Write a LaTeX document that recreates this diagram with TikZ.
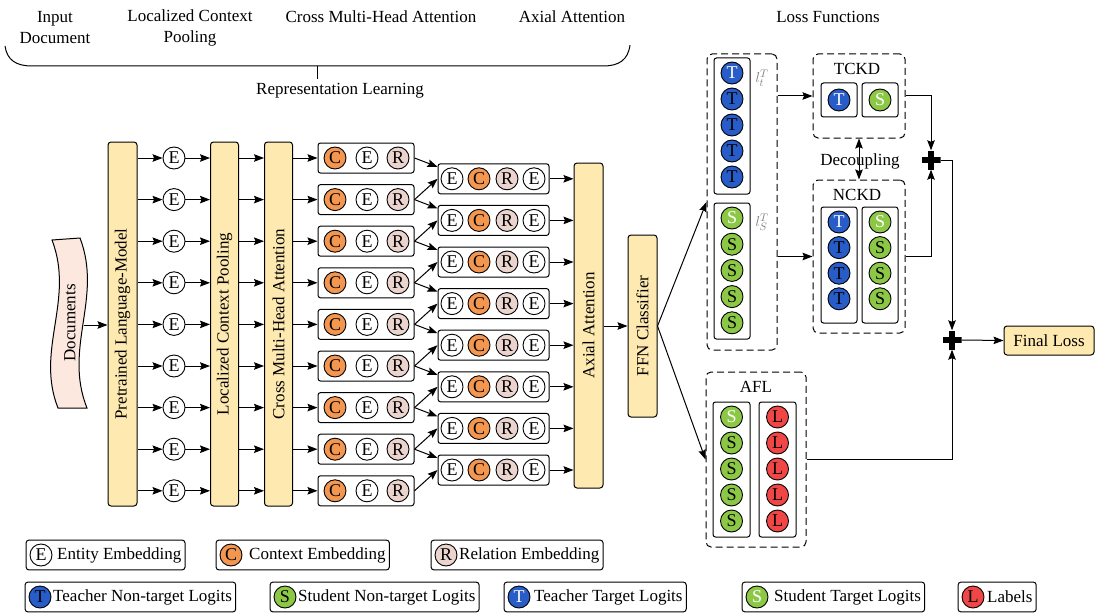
\documentclass[tikz,border=0pt]{standalone}
\usepackage{fontspec}
\setmainfont{Liberation Serif}
\usetikzlibrary{arrows.meta,fit}
\definecolor{ylw}{RGB}{254,234,176}
\definecolor{docfill}{RGB}{252,232,222}
\definecolor{corange}{RGB}{242,150,80}
\definecolor{rpink}{RGB}{236,212,206}
\definecolor{tblue}{RGB}{40,92,200}
\definecolor{sgreen}{RGB}{140,200,70}
\definecolor{lred}{RGB}{240,70,70}
\begin{document}
\begin{tikzpicture}[x=1pt,y=-1pt,font=\fontsize{17}{20}\selectfont,
 ybox/.style={draw,fill=ylw,rounded corners=3pt,line width=1pt,inner sep=0pt},
 circ/.style={circle,draw,line width=0.9pt,minimum size=22pt,inner sep=0pt,font=\fontsize{18}{18}\selectfont},
 ecirc/.style={circ,fill=white},
 ccirc/.style={circ,fill=corange},
 rcirc/.style={circ,fill=rpink},
 tcirc/.style={circ,fill=tblue},
 ttcirc/.style={circ,fill=tblue,text=white},
 scirc/.style={circ,fill=sgreen},
 stcirc/.style={circ,fill=sgreen,text=white},
 lcirc/.style={circ,fill=lred},
 rowbox/.style={draw,rounded corners=2.5pt,line width=1pt,inner sep=0pt},
 dbox/.style={draw,dash pattern=on 7pt off 4pt,rounded corners=5pt,line width=1pt,inner sep=0pt},
 legbox/.style={draw,rounded corners=3pt,line width=1pt,inner sep=3.5pt},
 arr/.style={-{Stealth[length=10pt,width=7.5pt,inset=1.5pt]},line width=1pt},
 darr/.style={{Stealth[length=10pt,width=7.5pt,inset=1.5pt]}-{Stealth[length=10pt,width=7.5pt,inset=1.5pt]},line width=1pt},
 plus/.style={minimum size=19pt,inner sep=0pt,
   path picture={\fill ([xshift=-9.5pt,yshift=-2.8pt]path picture bounding box.center) rectangle ([xshift=9.5pt,yshift=2.8pt]path picture bounding box.center);
                 \fill ([xshift=-2.8pt,yshift=-9.5pt]path picture bounding box.center) rectangle ([xshift=2.8pt,yshift=9.5pt]path picture bounding box.center);}},
 lab/.style={inner sep=0pt}
]
\useasboundingbox (0,0) rectangle (1107,615);

% top labels
\node[lab,align=center,font=\fontsize{17}{21}\selectfont] (tin) at (55,28) {Input\\Document};
\node[lab,align=center,font=\fontsize{17}{21}\selectfont] (tlcp) at (190,28) {Localized Context\\Pooling};
\node[lab] (tcm) at (381,17) {Cross Multi-Head Attention};
\node[lab] (tax) at (572,17) {Axial Attention};
\node[lab] (tloss) at (828,17) {Loss Functions};
\node[lab] (trep) at (340,91) {Representation Learning};
\draw[line width=1pt] (5,46) .. controls (7,60) and (16,66) .. (32,66) -- (603,66) .. controls (619,66) and (628,60) .. (630,45);
\draw[line width=1pt] (317,66) -- (317,79);

% documents
\draw[fill=docfill,line width=1pt] (52,240) .. controls (75,300) and (35,350) .. (58,408) -- (87,408) .. controls (63,348) and (103,298) .. (80,238) -- cycle;
\node[lab,rotate=90] (docs) at (70,323) {Documents};
\coordinate (docR) at (84,325);

% vertical blocks
\node[ybox,rotate=90,minimum width=364pt,minimum height=29pt] (plm) at (122.5,324) {Pretrained Language-Model};
\node[ybox,rotate=90,minimum width=364pt,minimum height=28pt] (lcp) at (224.5,324) {Localized Context Pooling};
\node[ybox,rotate=90,minimum width=364pt,minimum height=28pt] (cm) at (278.5,324) {Cross Multi-Head Attention};
\node[ybox,rotate=90,minimum width=325pt,minimum height=29pt] (ax) at (588.5,325.5) {Axial Attention};
\node[ybox,rotate=90,minimum width=182pt,minimum height=29pt] (ffn) at (642.5,326) {FFN Classifier};

\draw[arr] (docR) -- (docR -| plm.north);

\foreach \i in {1,...,9}{
  \pgfmathsetmacro\yy{158+41.6*(\i-1)}
  \node[ecirc] (e\i) at (174,\yy) {E};
  \node[rowbox,minimum width=96pt,minimum height=30pt] (cer\i) at (366,\yy) {};
  \node[ccirc] (cerC\i) at (335,\yy) {C};
  \node[ecirc] (cerE\i) at (367,\yy) {E};
  \node[rcirc] (cerR\i) at (398,\yy) {R};
  \draw[arr] (plm.south |- e\i) -- (e\i.west);
  \draw[arr] (e\i.east) -- (lcp.north |- e\i);
  \draw[arr] (lcp.south |- e\i) -- (cm.north |- e\i);
  \draw[arr] (cm.south |- e\i) -- (cer\i.west);
}
\foreach \j in {1,...,8}{
  \pgfmathsetmacro\yy{178.8+41.6*(\j-1)}
  \pgfmathtruncatemacro\k{\j+1}
  \node[rowbox,minimum width=111pt,minimum height=30pt] (ecre\j) at (493.5,\yy) {};
  \node[ecirc] (ecreE\j) at (452,\yy) {E};
  \node[ccirc] (ecreC\j) at (479,\yy) {C};
  \node[rcirc] (ecreR\j) at (507,\yy) {R};
  \node[ecirc] (ecreF\j) at (534,\yy) {E};
  \draw[arr] (cer\j.east) -- ([yshift=12pt]ecre\j.west);
  \draw[arr] (cer\k.east) -- (ecre\j.west);
  \draw[arr] (ecre\j.east) -- (ax.north |- ecre\j);
}
\draw[arr] (ax.south |- ffn.north) -- (ffn.north);

% logits box
\node[dbox,minimum width=70pt,minimum height=296pt] (lg) at (742,202) {};
\node[rowbox,minimum width=36pt,minimum height=136pt] (tcol) at (732,126) {};
\node[rowbox,minimum width=36pt,minimum height=136pt] (scol) at (732,271) {};
\node[ttcirc] (lt0) at (732,73) {T};
\foreach \k in {1,...,4}{\node[tcirc] (lt\k) at (732,73+26*\k) {T};}
\node[stcirc] (ls0) at (732,218) {S};
\foreach \k in {1,...,4}{\node[scirc] (ls\k) at (732,218+26.2*\k) {S};}
\node[lab,text=gray,font=\fontsize{15}{15}\selectfont] (ltl) at (762,78) {$l_t^T$};
\node[lab,text=gray,font=\fontsize{15}{15}\selectfont] (lsl) at (762,222) {$l_S^T$};

% TCKD
\node[dbox,minimum width=92pt,minimum height=84pt] (tckd) at (859,96) {};
\node[lab] (tckdl) at (857,69) {TCKD};
\node[rowbox,minimum width=36pt,minimum height=34pt] (tb) at (839,100) {};
\node[rowbox,minimum width=36pt,minimum height=34pt] (sb) at (880,100) {};
\node[ttcirc] (tbT) at (839,100) {T};
\node[stcirc] (sbS) at (880,100) {S};

% NCKD
\node[dbox,minimum width=92pt,minimum height=153pt] (nckd) at (859,256.5) {};
\node[lab] (nckdl) at (857,195) {NCKD};
\node[rowbox,minimum width=36pt,minimum height=116pt] (ntb) at (839,265) {};
\node[rowbox,minimum width=36pt,minimum height=116pt] (nsb) at (880,265) {};
\node[ttcirc] (nt0) at (839,222) {T};
\node[stcirc] (ns0) at (880,222) {S};
\foreach \k in {1,2,3}{
  \node[tcirc] (nt\k) at (839,222+25.6*\k) {T};
  \node[scirc] (ns\k) at (880,222+25.6*\k) {S};
}
\draw[darr] (tckd.south) -- (nckd.north);
\node[lab] (dec) at (860,161) {Decoupling};

% AFL
\node[dbox,minimum width=100pt,minimum height=175pt] (afl) at (756,459.5) {};
\node[lab] (afll) at (756,387) {AFL};
\node[rowbox,minimum width=37pt,minimum height=135pt] (asb) at (731.5,469.5) {};
\node[rowbox,minimum width=37pt,minimum height=135pt] (alb) at (777.5,469.5) {};
\node[stcirc] (as0) at (731.5,417) {S};
\node[lcirc] (al0) at (777.5,417) {L};
\foreach \k in {1,...,4}{
  \node[scirc] (as\k) at (731.5,417+26*\k) {S};
  \node[lcirc] (al\k) at (777.5,417+26*\k) {L};
}

% plus and final loss
\node[plus] (p1) at (931,160) {};
\node[plus] (p2) at (952,340) {};
\node[ybox,minimum width=90pt,minimum height=29pt] (fl) at (1049,340.5) {Final Loss};

\draw[arr] (ffn.south) -- (lg.west);
\draw[arr] (ffn.south) -- (afl.west);
\draw[arr] (lg.east |- tckd.west) -- (tckd.west);
\draw[arr] (lg.east |- nckd.west) -- (nckd.west);
\draw[arr] (tckd.east) -| (p1.north);
\draw[arr] (nckd.east) -| (p1.south);
\draw[arr] (p1.east) -| (p2.north);
\draw[arr] (afl.east) -| (p2.south);
\draw[arr] (p2.east) -- (fl.west);

% legend
\node[ecirc] (lgE) at (41,555) {E};
\node[lab,anchor=west] (lgEt) at (57,555) {Entity Embedding};
\node[legbox,fit=(lgE)(lgEt)] (lgEb) {};
\node[ccirc] (lgC) at (231,555) {C};
\node[lab,anchor=west] (lgCt) at (249,555) {Context Embedding};
\node[legbox,fit=(lgC)(lgCt)] (lgCb) {};
\node[rcirc] (lgR) at (446,555) {R};
\node[lab,anchor=west] (lgRt) at (459,555) {Relation Embedding};
\node[legbox,fit=(lgR)(lgRt)] (lgRb) {};

\node[tcirc] (lgT) at (40,597) {T};
\node[lab,anchor=west] (lgTt) at (53,597) {Teacher Non-target Logits};
\node[legbox,fit=(lgT)(lgTt)] (lgTb) {};
\node[scirc] (lgS) at (285,597) {S};
\node[lab,anchor=west] (lgSt) at (298,597) {Student Non-target Logits};
\node[legbox,fit=(lgS)(lgSt)] (lgSb) {};
\node[ttcirc] (lgTT) at (519,597) {T};
\node[lab,anchor=west] (lgTTt) at (534,597) {Teacher Target Logits};
\node[legbox,fit=(lgTT)(lgTTt)] (lgTTb) {};
\node[stcirc] (lgST) at (757,597) {S};
\node[lab,anchor=west] (lgSTt) at (774,597) {Student Target Logits};
\node[legbox,fit=(lgST)(lgSTt)] (lgSTb) {};
\node[lcirc] (lgL) at (973,597) {L};
\node[lab,anchor=west] (lgLt) at (987,597) {Labels};
\node[legbox,fit=(lgL)(lgLt)] (lgLb) {};
\end{tikzpicture}
\end{document}
